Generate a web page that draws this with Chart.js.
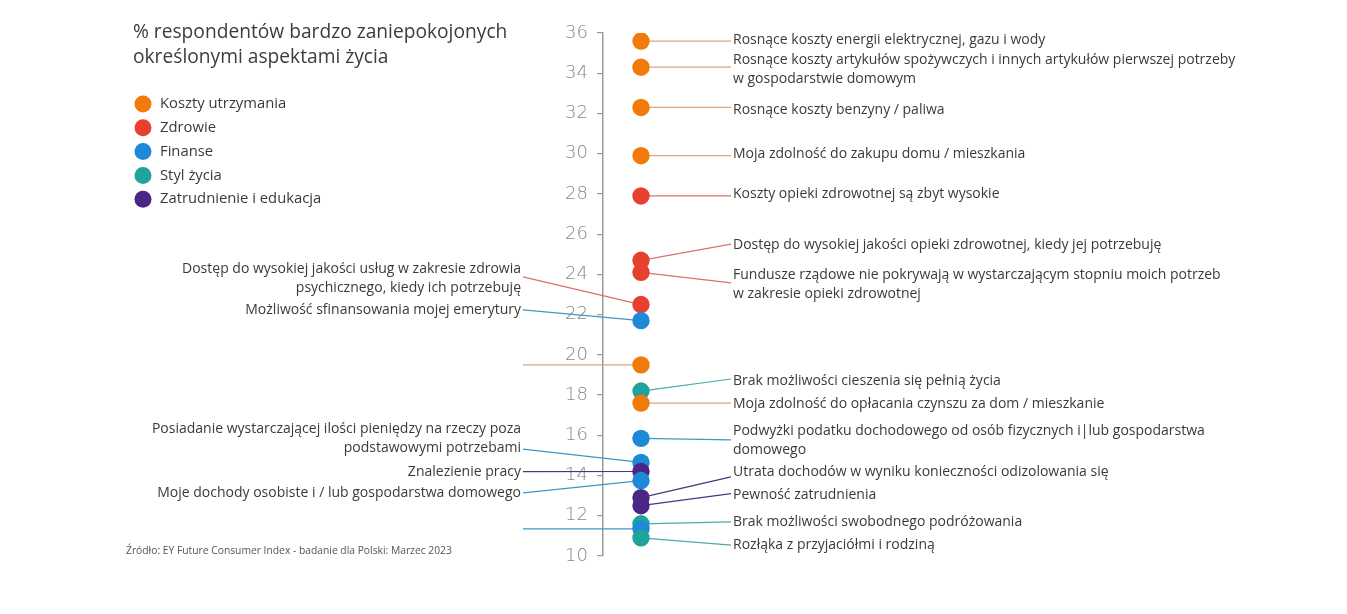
<!DOCTYPE html>
<html><head><meta charset="utf-8">
<script src="https://cdn.jsdelivr.net/npm/chart.js@4"></script>
<style>html,body{margin:0;padding:0;background:#fff;overflow:hidden}</style>
</head><body>
<canvas id="c" width="1347" height="614"></canvas>
<script>
// ---------- DATA ----------
const categories = [
  'Rosnące koszty energii elektrycznej, gazu i wody',
  'Rosnące koszty artykułów spożywczych i innych artykułów pierwszej potrzeby\nw gospodarstwie domowym',
  'Rosnące koszty benzyny / paliwa',
  'Moja zdolność do zakupu domu / mieszkania',
  'Koszty opieki zdrowotnej są zbyt wysokie',
  'Dostęp do wysokiej jakości opieki zdrowotnej, kiedy jej potrzebuję',
  'Fundusze rządowe nie pokrywają w wystarczającym stopniu moich potrzeb\nw zakresie opieki zdrowotnej',
  'Dostęp do wysokiej jakości usług w zakresie zdrowia\npsychicznego, kiedy ich potrzebuję',
  'Możliwość sfinansowania mojej emerytury',
  '',
  'Brak możliwości cieszenia się pełnią życia',
  'Moja zdolność do opłacania czynszu za dom / mieszkanie',
  'Podwyżki podatku dochodowego od osób fizycznych i|lub gospodarstwa\ndomowego',
  'Posiadanie wystarczającej ilości pieniędzy na rzeczy poza\npodstawowymi potrzebami',
  'Znalezienie pracy',
  'Moje dochody osobiste i / lub gospodarstwa domowego',
  'Utrata dochodów w wyniku konieczności odizolowania się',
  'Pewność zatrudnienia',
  'Brak możliwości swobodnego podróżowania',
  '',
  'Rozłąka z przyjaciółmi i rodziną'
];
const values = [35.6, 34.3, 32.3, 29.9, 27.9, 24.7, 24.1, 22.5, 21.7, 19.5, 18.2, 17.6, 15.85, 14.65, 14.2, 13.75, 12.9, 12.5, 11.6, 11.35, 10.9];
// index into groupNames
const groups = [0, 0, 0, 0, 1, 1, 1, 1, 2, 0, 3, 0, 2, 2, 4, 2, 4, 4, 3, 2, 3];
const groupNames = ['Koszty utrzymania', 'Zdrowie', 'Finanse', 'Styl życia', 'Zatrudnienie i edukacja'];
const sides = ['R','R','R','R','R','R','R','L','L','L','R','R','R','L','L','L','R','R','R','L','R'];
// where each leader line meets its label, and where the label text block is centred (y-axis units)
const lineEnds = [35.6, 34.3, 32.3, 29.9, 27.9, 25.5, 23.58, 23.88, 22.24, 19.5, 18.8, 17.6, 15.77, 15.31, 14.19, 13.14, 13.93, 13.1, 11.7, 11.35, 10.54];
const textAt   = [35.65, 34.2, 32.18, 29.97, 28.0, 25.47, 23.5, 23.8, 22.24, 19.5, 18.72, 17.56, 15.74, 15.82, 14.19, 13.14, 14.17, 13.03, 11.7, 11.35, 10.54];
const yMin = 10, yMax = 36, yStep = 2;
const titleLines = ['% respondentów bardzo zaniepokojonych', 'określonymi aspektami życia'];
const sourceText = 'Źródło: EY Future Consumer Index - badanie dla Polski: Marzec 2023';

// ---------- STYLE ----------
const pointColors = ['#F07A0A', '#E8402F', '#1C8AD6', '#1FA39C', '#4B2785'];
const lineColors  = ['#D9A67E', '#D9736C', '#3E96C8', '#4AABA8', '#4E3286'];
const textColor = '#3a3a3a';
const FONT = "'Open Sans', 'Noto Sans', sans-serif";

const annotPlugin = {
  id: 'annot',
  beforeDatasetsDraw(chart) {
    const ctx = chart.ctx, ys = chart.scales.y, meta = chart.getDatasetMeta(0);
    ctx.save();
    ctx.lineWidth = 1.2;
    values.forEach((v, i) => {
      const p = meta.data[i];
      const ey = ys.getPixelForValue(lineEnds[i]);
      const ex = sides[i] === 'R' ? 731 : 523;
      ctx.strokeStyle = lineColors[groups[i]];
      ctx.beginPath();
      ctx.moveTo(p.x, p.y);
      ctx.lineTo(ex, ey);
      ctx.stroke();
    });
    ctx.restore();
  },
  afterDraw(chart) {
    const ctx = chart.ctx, ys = chart.scales.y;
    ctx.save();
    // labels
    ctx.fillStyle = textColor;
    ctx.font = '14px ' + FONT;
    ctx.textBaseline = 'middle';
    const lh = 19;
    categories.forEach((lab, i) => {
      if (!lab) return;
      const lines = lab.split('\n');
      const cy = ys.getPixelForValue(textAt[i]);
      ctx.textAlign = sides[i] === 'R' ? 'left' : 'right';
      const x = sides[i] === 'R' ? 733 : 521;
      lines.forEach((ln, k) => {
        ctx.fillText(ln, x, cy + (k - (lines.length - 1) / 2) * lh);
      });
    });
    // title
    ctx.textAlign = 'left';
    ctx.fillStyle = '#3c3c3c';
    ctx.font = '19.2px ' + FONT;
    ctx.fillText(titleLines[0], 133, 33);
    ctx.fillText(titleLines[1], 133, 58);
    // legend
    ctx.font = '14.8px ' + FONT;
    groupNames.forEach((g, k) => {
      const y = 104 + k * 23.8;
      ctx.fillStyle = pointColors[k];
      ctx.beginPath();
      ctx.arc(143, y, 8.5, 0, Math.PI * 2);
      ctx.fill();
      ctx.fillStyle = textColor;
      ctx.fillText(g, 160, y);
    });
    // source
    ctx.font = '10.3px ' + FONT;
    ctx.fillStyle = '#555';
    ctx.fillText(sourceText, 126, 551);
    ctx.restore();
  }
};

new Chart(document.getElementById('c'), {
  type: 'scatter',
  data: {
    datasets: [{
      data: values.map(v => ({ x: 1, y: v })),
      backgroundColor: groups.map(g => pointColors[g]),
      borderWidth: 0,
      pointRadius: 8.7,
      pointHoverRadius: 8.7
    }]
  },
  options: {
    responsive: false,
    animation: false,
    devicePixelRatio: 1,
    layout: { padding: { left: 553, right: 668, top: 33, bottom: 58 } },
    plugins: { legend: { display: false }, tooltip: { enabled: false } },
    events: [],
    scales: {
      x: { type: 'linear', min: 0, max: 2, display: false },
      y: {
        min: yMin, max: yMax,
        ticks: { stepSize: yStep, color: '#868686', padding: 9, font: { family: "'DejaVu Sans', sans-serif", size: 18, weight: '200' } },
        grid: { drawOnChartArea: false, tickLength: 6, color: '#9a9a9a', lineWidth: 1.2 },
        border: { color: '#9a9a9a', width: 1.5 },
        afterFit(s) { s.width = 50; }
      }
    }
  },
  plugins: [annotPlugin]
});
</script>
</body></html>
